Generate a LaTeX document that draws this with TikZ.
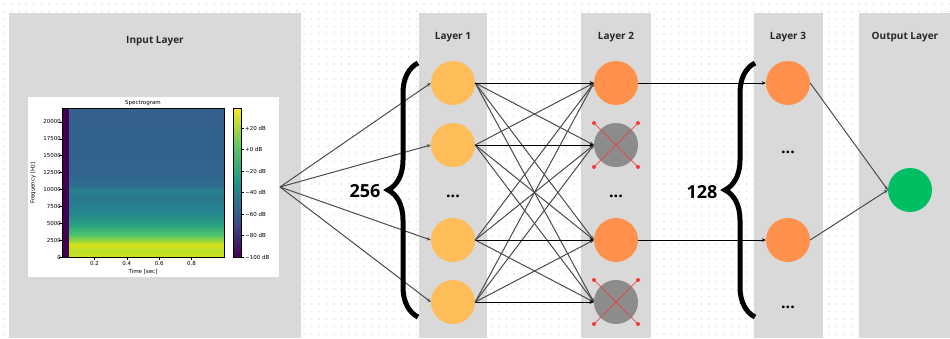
\documentclass[tikz,border=0pt]{standalone}
\usepackage{fontspec}
\setmainfont{Open Sans}
\newfontfamily\plotfont{DejaVu Sans}
\usetikzlibrary{positioning,arrows.meta,decorations.pathreplacing}

\definecolor{panelgray}{HTML}{D9D9D9}
\definecolor{dotgray}{HTML}{E2E2E2}
\definecolor{lightorange}{HTML}{FFBD59}
\definecolor{deeporange}{HTML}{FF914D}
\definecolor{dropgray}{HTML}{8C8C8C}
\definecolor{dropred}{HTML}{F23B3B}
\definecolor{outgreen}{HTML}{00BF63}
\definecolor{vir0}{HTML}{440154}
\definecolor{vir1}{HTML}{3B528B}
\definecolor{vir2}{HTML}{21918C}
\definecolor{vir3}{HTML}{5EC962}
\definecolor{vir4}{HTML}{FDE725}
\definecolor{spa}{HTML}{CFE11C}
\definecolor{spb}{HTML}{B9DE29}
\definecolor{spc}{HTML}{DEE318}
\definecolor{spd}{HTML}{96D83E}
\definecolor{spe}{HTML}{4EC36B}
\definecolor{spf}{HTML}{28A082}
\definecolor{spg}{HTML}{25858E}
\definecolor{sph}{HTML}{2A788E}
\definecolor{spi}{HTML}{26828E}
\definecolor{spj}{HTML}{2D6F8E}
\definecolor{spk}{HTML}{32648D}
\definecolor{spl}{HTML}{34618D}

\pgfdeclareverticalshading{viridis}{100bp}{color(0bp)=(vir0); color(25bp)=(vir0);
  color(37.5bp)=(vir1); color(50bp)=(vir2); color(62.5bp)=(vir3); color(75bp)=(vir4); color(100bp)=(vir4)}
\pgfdeclareverticalshading{specshade}{100bp}{color(0bp)=(spa); color(25bp)=(spa);
  color(27.5bp)=(spb); color(29bp)=(spc); color(30.5bp)=(spd); color(32.5bp)=(spe);
  color(36bp)=(spf); color(40bp)=(spg); color(45bp)=(sph); color(47.5bp)=(spi);
  color(48.5bp)=(spj); color(52.5bp)=(spk); color(75bp)=(spl); color(100bp)=(spl)}

\tikzset{
  panel/.style={fill=panelgray},
  title/.style={font=\fontsize{10}{12}\selectfont\bfseries, text=black!85},
  neuron/.style={circle, minimum size=44pt, inner sep=0pt},
  hidden/.style={neuron, fill=lightorange},
  active/.style={neuron, fill=deeporange},
  dropped/.style={neuron, fill=dropgray},
  outnode/.style={neuron, fill=outgreen},
  link/.style={draw=black!70, line width=1pt, -{Stealth[length=4pt,width=3.5pt]}},
  straight/.style={link, draw=black},
  count/.style={font=\fontsize{18}{20}\selectfont\bfseries},
  more/.style={font=\fontsize{16}{16}\selectfont\bfseries, inner sep=0pt},
  bigbrace/.style={decorate, decoration={brace, amplitude=30pt}, line width=5pt},
  ticklabel/.style={font=\plotfont\fontsize{5.5}{6}\selectfont, inner sep=1pt},
  crossline/.style={draw=dropred, line width=1pt, opacity=.8}
}

\begin{document}
\begin{tikzpicture}[x=1pt, y=-1pt]
\def\xa{453}
\def\xb{616}
\def\xc{788}
\def\xd{910}

\def\ya{83}
\def\yb{145}
\def\yc{240}
\def\yd{302}

% background
\useasboundingbox (0,0) rectangle (950,338);
\fill[white] (0,0) rectangle (950,338);
\foreach \r in {0,...,44}
  \draw[dotgray, line width=1.8pt, line cap=round, dash pattern=on 0pt off 7.5pt] (4, 4+7.5*\r) -- (950, 4+7.5*\r);

\fill[panel] (9,13) rectangle (301,338);
\fill[panel] (419,13) rectangle (487,338);
\fill[panel] (581,13) rectangle (651,338);
\fill[panel] (754,13) rectangle (823,338);
\fill[panel] (859,13) rectangle (950,338);

\node[title] (tin) at (155,41) {Input Layer};
\node[title] (t1) at (\xa,37) {Layer 1};
\node[title] (t2) at (\xb,37) {Layer 2};
\node[title] (t3) at (\xc,37) {Layer 3};
\node[title] (tout) at (905,37) {Output Layer};

% spectrogram
\fill[white] (28,97) rectangle (279,277);
\shade[shading=specshade] (69,108) rectangle (224,257);
\fill[vir0] (62,108) rectangle (69,257);
\draw[line width=0.4pt] (62,108) rectangle (224,257);
\shade[shading=viridis] (233,108) rectangle (241,257);
\draw[line width=0.4pt] (233,108) rectangle (241,257);
\node[ticklabel] (stitle) at (143,103) {Spectrogram};
\foreach \v [count=\k from 0] in {0,2500,5000,7500,10000,12500,15000,17500,20000}
  \draw[line width=0.4pt] (59,257-16.9*\k) -- (62,257-16.9*\k) node[left, ticklabel] {\v};
\foreach \t in {0.2,0.4,0.6,0.8}
  \draw[line width=0.4pt] (62+162*\t,257) -- (62+162*\t,260) node[below, ticklabel] {\t};
\foreach \lab [count=\k from 0] in {+20,+0,−20,−40,−60,−80,−100}
  \draw[line width=0.4pt] (241,128+21.5*\k) -- (244,128+21.5*\k) node[right, ticklabel] {\lab{} dB};
\node[ticklabel] (sx) at (143,272) {Time [sec]};
\node[ticklabel, rotate=90] (sy) at (33,183) {Frequency [Hz]};

% neurons
\coordinate (src) at (280,187);
\node[hidden] (ha) at (\xa,\ya) {};
\node[hidden] (hb) at (\xa,\yb) {};
\node[hidden] (hc) at (\xa,\yc) {};
\node[hidden] (hd) at (\xa,\yd) {};

\node[active] (ma) at (\xb,\ya) {};
\node[dropped] (mb) at (\xb,\yb) {};
\node[active] (mc) at (\xb,\yc) {};
\node[dropped] (md) at (\xb,\yd) {};

\node[active] (ta) at (\xc,\ya) {};
\node[active] (tb) at (\xc,\yc) {};

\node[outnode] (out) at (\xd,190) {};

\foreach \n in {mb,md} {
  \draw[crossline] ([shift={(-22,-22)}]\n.center) -- ([shift={(22,22)}]\n.center);
  \draw[crossline] ([shift={(-22,22)}]\n.center) -- ([shift={(22,-22)}]\n.center);
  \fill[dropred] ([shift={(-22,-22)}]\n.center) circle (2pt) ([shift={(22,22)}]\n.center) circle (2pt)
    ([shift={(-22,22)}]\n.center) circle (2pt) ([shift={(22,-22)}]\n.center) circle (2pt);
}

\node[more] (da) at (\xa,196) {...};
\node[more] (db) at (\xb,196) {...};
\node[more] (dc) at (\xc,152) {...};
\node[more] (dd) at (\xc,307) {...};

% connections
\foreach \n in {ha,hb,hc,hd}
  \draw[link] (src) -- (\n.west);
\foreach \s in {a,b,c,d}
  \foreach \t in {a,b,c,d}
    \draw[link] (h\s.east) -- (m\t.west);
\foreach \s in {a,b,c,d}
  \draw[straight] (h\s.east) -- (m\s.west);
\draw[straight] (ma.east) -- (ta.west);
\draw[straight] (mc.east) -- (tb.west);
\draw[link] (ta.east) -- (out.west);
\draw[link] (tb.east) -- (out.west);

% braces
\draw[bigbrace] (418,317) -- (418,63);
\draw[bigbrace] (755,317) -- (755,63);
\node[count] (na) at (365,191) {256};
\node[count] (nb) at (702,192) {128};

\end{tikzpicture}
\end{document}
